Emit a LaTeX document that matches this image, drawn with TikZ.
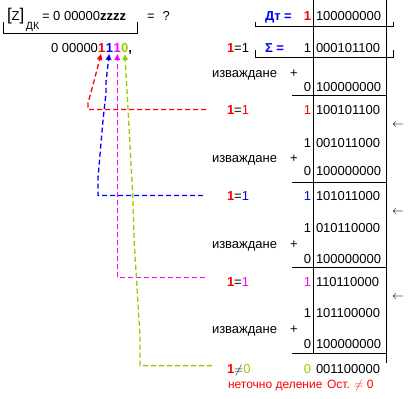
\documentclass[tikz,border=0pt]{standalone}
\usepackage{fontspec}
\setmainfont{Liberation Sans}
\usetikzlibrary{arrows.meta, positioning}
\definecolor{digitgreen}{RGB}{153,204,0}
\definecolor{digitpink}{RGB}{255,0,255}
\definecolor{digitred}{RGB}{255,0,0}
\definecolor{digitblue}{RGB}{0,0,255}

\begin{document}
\begin{tikzpicture}[
        x=1pt, y=-1pt,
        font=\fontsize{13}{15}\selectfont,
        every node/.style={inner sep=0pt, outer sep=0pt},
        num/.style={anchor=base west},
        bit/.style={anchor=base east},
        lbl/.style={anchor=base west},
        rule/.style={line width=1pt},
        hint/.style={line width=1.3pt, dash pattern=on 5pt off 3pt},
        arrow/.style={hint, -{Triangle[length=6pt, width=5.5pt]}, shorten >=2pt},
        note/.style={anchor=base west, text=digitred, font=\fontsize{12}{14}\selectfont}
    ]
        \useasboundingbox (0,0) rectangle (416,399);

        % task
        \node[lbl] (zname) at (7,20) {{\fontsize{17}{18}\selectfont[}Z{\fontsize{17}{18}\selectfont]}};
        \node[lbl, font=\fontsize{10.5}{12}\selectfont] (zsub) at (26,29) {ДК};
        \node[lbl] (zval) at (42,20) {= 0 00000\textbf{zzzz}};
        \node[lbl] (zask) at (147,20) {=\hspace{8pt}?};
        \draw[rule] (3,22) |- (137,33) -- (137,22);

        % quotient
        \node[bit] (zeros) at (98,52) {0 00000};
        \node[num, text=digitred] (dA) at (zeros.base east) {\textbf{1}};
        \node[num, text=digitblue] (dB) at ([xshift=0.6pt]dA.base east) {\textbf{1}};
        \node[num, text=digitpink] (dC) at ([xshift=0.6pt]dB.base east) {\textbf{1}};
        \node[num, text=digitgreen] (dD) at ([xshift=0.2pt]dC.base east) {\textbf{0}};
        \node[num] (comma) at (dD.base east) {\textbf{,}};

        % table
        \draw[rule] (313,0) -- (313,353);
        \draw[rule] (386,0) -- (386,363);
        \draw[rule] (255,22) |- (393,26) -- (393,22);
        \draw[rule] (255,50) |- (393,57) -- (393,50);

        \node[lbl, text=digitblue] (dt) at (265,20) {\textbf{Дт =}};
        \node[bit, text=digitred] (dtbit) at (311,20) {\textbf{1}};
        \node[num] (dtval) at (316,20) {100000000};

        \node[lbl] (l0) at (227,52) {\textcolor{digitred}{\textbf{1}}=1};
        \node[lbl, text=digitblue] (sum) at (265,52) {\textbf{Σ =}};
        \node[bit] (sumbit) at (311,52) {1};
        \node[num] (sumval) at (316,52) {000101100};

        % step 1
        \node[lbl] (sub1) at (212,77) {изваждане};
        \node[anchor=base] (plus1) at (294,77) {+};
        \node[bit] (zb1) at (311,91) {0};
        \node[num] (zv1) at (316,91) {100000000};
        \draw[rule] (292,95) -- (386,95);
        \node[lbl] (lA) at (227,114) {\textcolor{digitred}{\textbf{1}}=\textcolor{digitred}{1}};
        \node[bit, text=digitred] (rb1) at (311,114) {1};
        \node[num] (rv1) at (316,114) {100101100};
        \node (sh1) at (398,125) {$\leftarrow$};
        \node[bit] (sb1) at (311,147) {1};
        \node[num] (sv1) at (316,147) {001011000};

        % step 2
        \node[lbl] (sub2) at (212,162) {изваждане};
        \node[anchor=base] (plus2) at (294,162) {+};
        \node[bit] (zb2) at (311,175) {0};
        \node[num] (zv2) at (316,175) {100000000};
        \draw[rule] (292,182) -- (386,182);
        \node[lbl] (lB) at (227,200) {\textcolor{digitred}{\textbf{1}}=\textcolor{digitblue}{1}};
        \node[bit, text=digitblue] (rb2) at (311,200) {1};
        \node[num] (rv2) at (316,200) {101011000};
        \node (sh2) at (398,212) {$\leftarrow$};
        \node[bit] (sb2) at (311,232) {1};
        \node[num] (sv2) at (316,232) {010110000};

        % step 3
        \node[lbl] (sub3) at (212,248) {изваждане};
        \node[anchor=base] (plus3) at (294,248) {+};
        \node[bit] (zb3) at (311,263) {0};
        \node[num] (zv3) at (316,263) {100000000};
        \draw[rule] (292,267) -- (386,267);
        \node[lbl] (lC) at (227,286) {\textcolor{digitred}{\textbf{1}}=\textcolor{digitpink}{1}};
        \node[bit, text=digitpink] (rb3) at (311,286) {1};
        \node[num] (rv3) at (316,286) {110110000};
        \node (sh3) at (398,297) {$\leftarrow$};
        \node[bit] (sb3) at (311,317) {1};
        \node[num] (sv3) at (316,317) {101100000};

        % step 4
        \node[lbl] (sub4) at (212,333) {изваждане};
        \node[anchor=base] (plus4) at (294,333) {+};
        \node[bit] (zb4) at (311,348) {0};
        \node[num] (zv4) at (316,348) {100000000};
        \draw[rule] (292,353) -- (386,353);
        \node[lbl] (lD) at (227,373) {\textcolor{digitred}{\textbf{1}}$\neq$\textcolor{digitgreen}{0}};
        \node[bit, text=digitgreen] (rb4) at (311,373) {0};
        \node[num] (rv4) at (316,373) {001100000};
        \node[note] (rem1) at (228,388) {неточно деление};
        \node[note] (rem2) at (327,388) {Ост. $\neq$ 0};

        % back to the quotient bits
        \draw[arrow, digitred] ([xshift=-21pt]lA.west) -| (88,103) -- (93,85) -- (dA.south);
        \draw[arrow, digitblue] ([xshift=-24pt]lB.west) -| (98,178) -- (103,120) -- (106,93) -- (106,82) -- (dB.south);
        \draw[arrow, digitpink] ([xshift=-22pt, yshift=4pt]lC.west) -| (dC.south);
        \draw[arrow, digitgreen] ([xshift=-15pt, yshift=4pt]lD.west) -| (140,337) -- (134,238) -- (133,200) -- (127,90) -- (dD.south);
    \end{tikzpicture}
\end{document}
